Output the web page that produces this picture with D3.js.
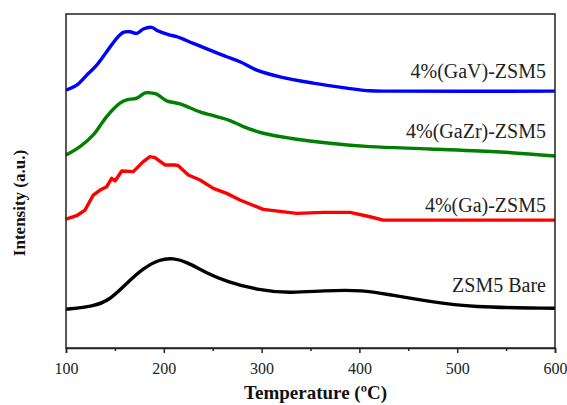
<!DOCTYPE html>
<html>
<head>
<meta charset="utf-8">
<script src="https://cdn.jsdelivr.net/npm/d3@7"></script>
<style>
    body { margin: 0; background: #fff; }
    svg { display: block; font-family: "Liberation Serif", "Times New Roman", serif; }
</style>
</head>
<body>
<script>
// ---- data ----
// temperature (°C) / intensity (a.u., arbitrary, curves offset like the original stack)
const gavT = [100, 110.9, 121.2, 131.4, 141.6, 151.8, 158.6, 165.4, 172.3, 179, 187.6, 194.4, 206.3, 213.2, 230.2, 247.2, 264.3, 277.9, 295, 318.8, 352.9, 387, 410.8, 431.3, 600];
const gavI = [77.2, 78.7, 81.7, 84.7, 88.7, 92.7, 94.5, 94.7, 94.2, 95.5, 96.0, 94.9, 93.7, 93.2, 91.2, 89.2, 87.2, 85.7, 83.2, 81.2, 79.3, 77.8, 77.0, 76.9, 76.9];

const gazrT = [100, 114.3, 127.9, 141.6, 155.2, 162.1, 172.3, 180.8, 185.9, 192.7, 203, 216.6, 237, 254.1, 267.7, 281.3, 301.7, 329, 369.9, 410.8, 472.2, 543.8, 600];
const gazrI = [57.8, 60.3, 63.8, 69.3, 73.3, 74.3, 74.8, 76.4, 76.4, 76.0, 74.0, 73.1, 70.7, 69.3, 68.1, 66.3, 64.3, 62.8, 61.3, 60.3, 59.6, 58.7, 57.5];

const gaT = [100, 110.9, 119.4, 127.9, 134.8, 141.6, 146.7, 150.1, 157, 168.8, 179, 185.9, 191, 201.2, 211.5, 214.8, 225.1, 237, 250.6, 264.3, 277.9, 301.7, 335.9, 363.1, 390.4, 410.8, 424.4, 600];
const gaI = [38.6, 39.6, 41.3, 45.8, 47.3, 48.3, 50.8, 50.0, 53.0, 52.8, 55.8, 57.3, 57.0, 54.8, 54.8, 54.6, 51.8, 50.3, 47.8, 46.3, 44.3, 41.5, 40.3, 40.6, 40.6, 39.3, 38.3, 38.3];

const bareT = [100, 127.9, 145, 162.1, 179, 196.1, 209.7, 223.4, 243.9, 264.3, 295, 329, 363.1, 404, 431.3, 472.2, 513.1, 600];
const bareI = [11.6, 12.4, 14.4, 19.4, 23.9, 26.6, 26.9, 25.8, 22.4, 19.9, 17.4, 16.4, 17.2, 17.4, 15.9, 13.9, 12.2, 11.9];

const seriesNames = ["4%(GaV)-ZSM5", "4%(GaZr)-ZSM5", "4%(Ga)-ZSM5", "ZSM5 Bare"];
const seriesColors = ["#0000ff", "#008000", "#ff0000", "#000000"];
const majorTicks = [100, 200, 300, 400, 500, 600];
const minorTicks = [150, 250, 350, 450, 550];

// ---- layout ----
const width = 567, height = 405;
const margin = { top: 14, right: 12, bottom: 57, left: 66 };

const svg = d3.select("body").append("svg").attr("width", width).attr("height", height);

const x = d3.scaleLinear().domain([100, 600]).range([margin.left, width - margin.right]);
const y = d3.scaleLinear().domain([0, 100]).range([height - margin.bottom, margin.top]);

const series = [
    { name: seriesNames[0], color: seriesColors[0], T: gavT, I: gavI, curve: d3.curveCatmullRom, labelY: 78 },
    { name: seriesNames[1], color: seriesColors[1], T: gazrT, I: gazrI, curve: d3.curveCatmullRom, labelY: 138 },
    { name: seriesNames[2], color: seriesColors[2], T: gaT, I: gaI, curve: d3.curveLinear, labelY: 212 },
    { name: seriesNames[3], color: seriesColors[3], T: bareT, I: bareI, curve: d3.curveBasis, labelY: 292 },
];

// curves
series.forEach((s) => {
    const pts = s.T.map((t, i) => [t, s.I[i]]);
    const line = d3.line().x((d) => x(d[0])).y((d) => y(d[1])).curve(s.curve);
    svg.append("path")
        .datum(pts)
        .attr("fill", "none")
        .attr("stroke", s.color)
        .attr("stroke-width", 3.4)
        .attr("stroke-linejoin", "round")
        .attr("d", line);

    svg.append("text")
        .attr("x", x(600) - 9)
        .attr("y", s.labelY)
        .attr("text-anchor", "end")
        .attr("font-size", 20)
        .attr("fill", "#222")
        .text(s.name);
});

// frame
svg.append("rect")
    .attr("x", margin.left)
    .attr("y", margin.top)
    .attr("width", width - margin.left - margin.right)
    .attr("height", height - margin.top - margin.bottom)
    .attr("fill", "none")
    .attr("stroke", "#222")
    .attr("stroke-width", 1.5);

// x axis
const xAxis = svg.append("g")
    .attr("transform", `translate(0,${height - margin.bottom})`)
    .call(d3.axisBottom(x).tickValues(majorTicks).tickSize(5).tickPadding(10).tickFormat(d3.format("d")));
xAxis.select(".domain").attr("stroke", "#222").attr("stroke-width", 1.5);
xAxis.selectAll(".tick line").attr("stroke", "#222").attr("stroke-width", 1.5);
xAxis.selectAll(".tick text")
    .attr("font-family", "Liberation Serif, serif")
    .attr("font-size", 16)
    .attr("fill", "#222");

const minor = svg.append("g")
    .attr("transform", `translate(0,${height - margin.bottom})`)
    .call(d3.axisBottom(x).tickValues(minorTicks).tickSize(3).tickFormat(""));
minor.select(".domain").remove();
minor.selectAll(".tick line").attr("stroke", "#222").attr("stroke-width", 1.5);

// axis titles
svg.append("text")
    .attr("x", (x(100) + x(600)) / 2 + 5)
    .attr("y", 399)
    .attr("text-anchor", "middle")
    .attr("font-size", 19)
    .attr("font-weight", "bold")
    .attr("fill", "#111")
    .text("Temperature (ºC)");

svg.append("text")
    .attr("transform", `translate(25,${(y(0) + y(100)) / 2 + 22}) rotate(-90)`)
    .attr("text-anchor", "middle")
    .attr("font-size", 17)
    .attr("font-weight", "bold")
    .attr("fill", "#111")
    .text("Intensity (a.u.)");
</script>
</body>
</html>
